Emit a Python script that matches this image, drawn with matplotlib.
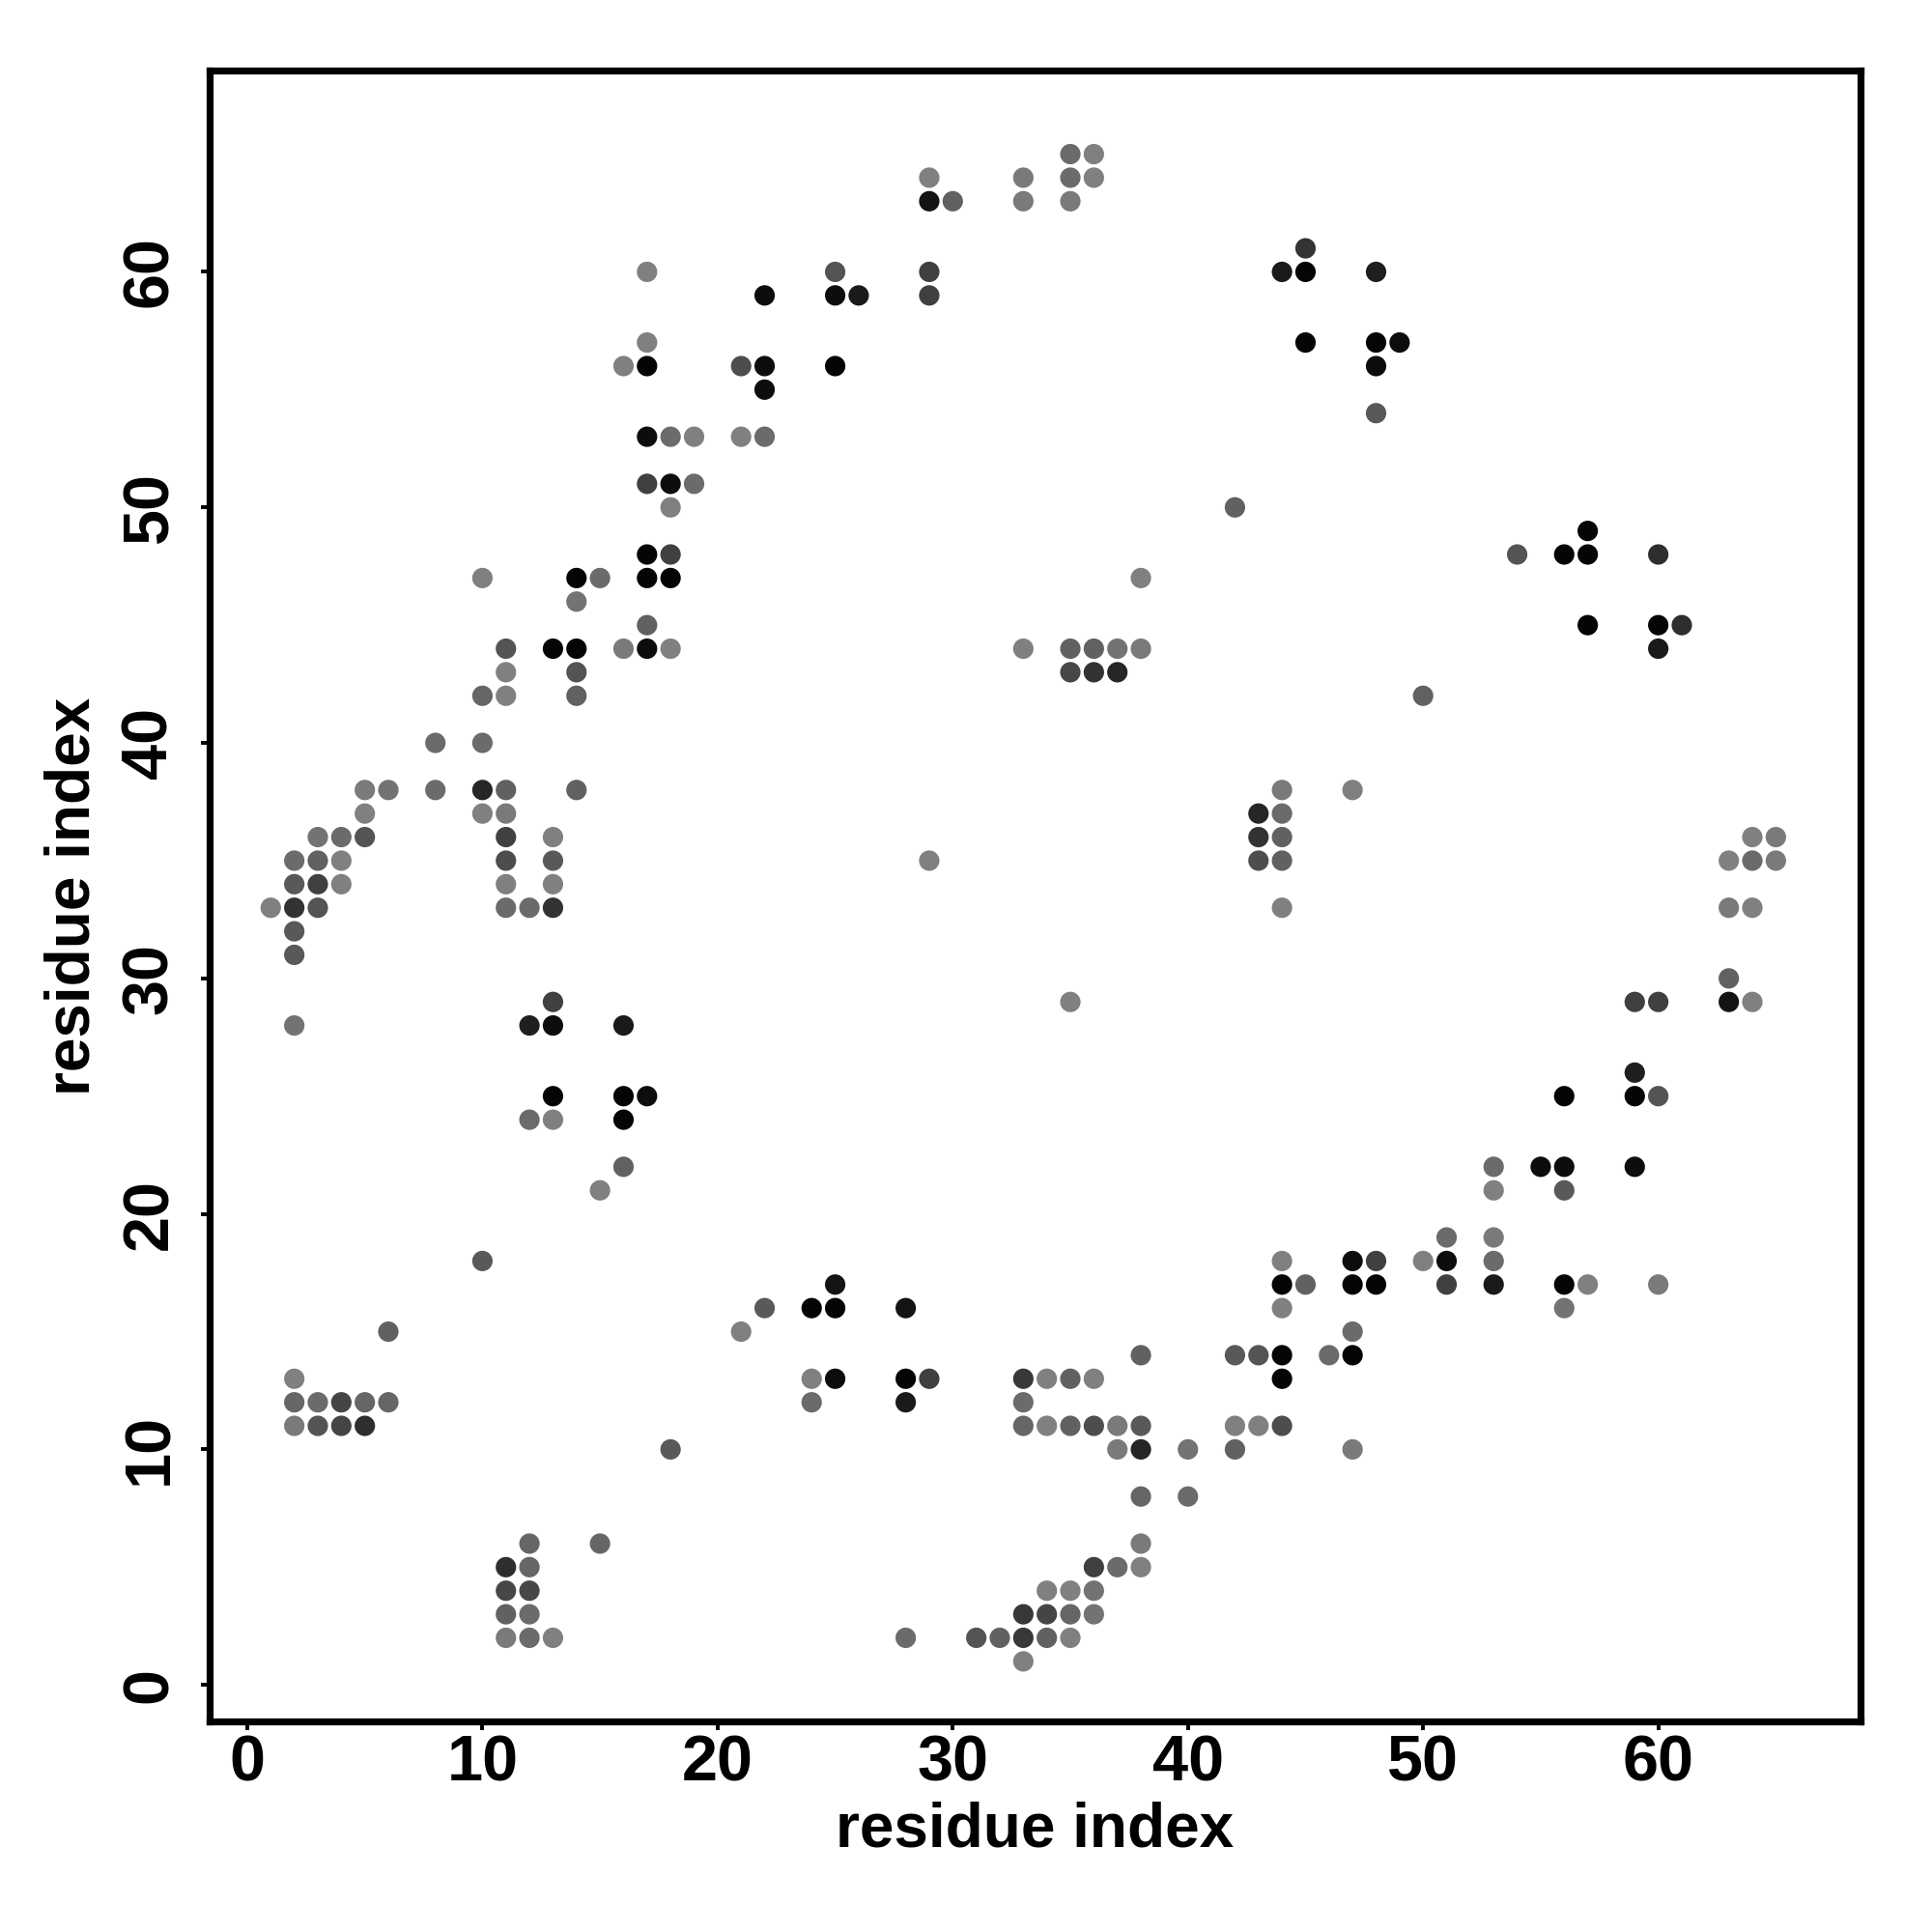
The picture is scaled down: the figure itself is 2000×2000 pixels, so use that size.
import matplotlib
matplotlib.use("Agg")
import matplotlib.pyplot as plt
from matplotlib import font_manager

# contact map: residue i, residue j, grey level (0 = black)
res_i = [35, 36,
         29, 33, 35, 36,
         29, 30, 33, 35,
         45,
         17, 25, 29, 44, 45, 48,
         22, 25, 26, 29,
         17, 45, 48, 49,
         16, 17, 21, 22, 25, 48,
         22,
         48,
         17, 18, 19, 21, 22,
         17, 18, 19,
         18, 42,
         57,
         17, 18, 54, 56, 57, 60,
         10, 14, 15, 17, 18, 38,
         14,
         17, 57, 60, 61,
         11, 13, 14, 16, 17, 18, 33, 35, 36, 37, 38, 60,
         11, 14, 35, 36, 37,
         10, 11, 14, 50,
         8, 10,
         5, 6, 8, 10, 11, 14, 44, 47,
         5, 10, 11, 43, 44,
         3, 4, 5, 11, 13, 43, 44, 64, 65,
         2, 3, 4, 11, 13, 29, 43, 44, 63, 64, 65,
         2, 3, 4, 11, 13,
         1, 2, 3, 11, 12, 13, 44, 63, 64,
         2,
         2,
         63,
         13, 35, 59, 60, 63, 64,
         2, 12, 13, 16,
         59,
         13, 16, 17, 56, 59, 60,
         12, 13, 16,
         16, 53, 55, 56, 59,
         15, 53, 56,
         51, 53,
         10, 44, 47, 48, 50, 51, 53,
         25, 44, 45, 47, 48, 51, 53, 56, 57, 60,
         22, 24, 25, 28, 44, 56,
         6, 21, 47,
         38, 42, 43, 44, 46, 47,
         2, 24, 25, 28, 29, 33, 34, 35, 36, 44,
         2, 3, 4, 5, 6, 24, 28, 33,
         2, 3, 4, 5, 33, 34, 35, 36, 37, 38, 42, 43, 44,
         18, 37, 38, 40, 42, 47,
         38, 40,
         12, 15, 38,
         11, 12, 36, 37, 38,
         11, 12, 34, 35, 36,
         11, 12, 33, 34, 35, 36,
         11, 12, 13, 28, 31, 32, 33, 34, 35,
         33]

res_j = [65, 65,
         64, 64, 64, 64,
         63, 63, 63, 63,
         61,
         60, 60, 60, 60, 60, 60,
         59, 59, 59, 59,
         57, 57, 57, 57,
         56, 56, 56, 56, 56, 56,
         55,
         54,
         53, 53, 53, 53, 53,
         51, 51, 51,
         50, 50,
         49,
         48, 48, 48, 48, 48, 48,
         47, 47, 47, 47, 47, 47,
         46,
         45, 45, 45, 45,
         44, 44, 44, 44, 44, 44, 44, 44, 44, 44, 44, 44,
         43, 43, 43, 43, 43,
         42, 42, 42, 42,
         40, 40,
         38, 38, 38, 38, 38, 38, 38, 38,
         37, 37, 37, 37, 37,
         36, 36, 36, 36, 36, 36, 36, 36, 36,
         35, 35, 35, 35, 35, 35, 35, 35, 35, 35, 35,
         34, 34, 34, 34, 34,
         33, 33, 33, 33, 33, 33, 33, 33, 33,
         32,
         31,
         30,
         29, 29, 29, 29, 29, 29,
         28, 28, 28, 28,
         26,
         25, 25, 25, 25, 25, 25,
         24, 24, 24,
         22, 22, 22, 22, 22,
         21, 21, 21,
         19, 19,
         18, 18, 18, 18, 18, 18, 18,
         17, 17, 17, 17, 17, 17, 17, 17, 17, 17,
         16, 16, 16, 16, 16, 16,
         15, 15, 15,
         14, 14, 14, 14, 14, 14,
         13, 13, 13, 13, 13, 13, 13, 13, 13, 13,
         12, 12, 12, 12, 12, 12, 12, 12,
         11, 11, 11, 11, 11, 11, 11, 11, 11, 11, 11, 11, 11,
         10, 10, 10, 10, 10, 10,
         8, 8,
         6, 6, 6,
         5, 5, 5, 5, 5,
         4, 4, 4, 4, 4,
         3, 3, 3, 3, 3, 3,
         2, 2, 2, 2, 2, 2, 2, 2, 2,
         1]

grey = [0.42, 0.50,
        0.50, 0.48, 0.42, 0.50,
        0.08, 0.38, 0.48, 0.48,
        0.20,
        0.50, 0.33, 0.25, 0.10, 0.02, 0.12,
        0.05, 0.05, 0.10, 0.25,
        0.50, 0.02, 0.02, 0.05,
        0.50, 0.02, 0.30, 0.05, 0.02, 0.05,
        0.05,
        0.35,
        0.05, 0.42, 0.50, 0.50, 0.42,
        0.25, 0.05, 0.42,
        0.50, 0.38,
        0.02,
        0.02, 0.25, 0.33, 0.02, 0.02, 0.18,
        0.50, 0.02, 0.42, 0.02, 0.02, 0.50,
        0.45,
        0.38, 0.02, 0.02, 0.18,
        0.33, 0.02, 0.02, 0.48, 0.05, 0.50, 0.50, 0.38, 0.38, 0.45, 0.48, 0.10,
        0.50, 0.33, 0.28, 0.20, 0.15,
        0.40, 0.50, 0.38, 0.38,
        0.42, 0.42,
        0.48, 0.45, 0.42, 0.15, 0.38, 0.38, 0.48, 0.50,
        0.50, 0.50, 0.48, 0.15, 0.42,
        0.45, 0.42, 0.33, 0.25, 0.50, 0.20, 0.38, 0.50, 0.48,
        0.42, 0.38, 0.50, 0.30, 0.35, 0.50, 0.30, 0.38, 0.50, 0.42, 0.48,
        0.35, 0.25, 0.50, 0.50, 0.50,
        0.50, 0.20, 0.33, 0.42, 0.42, 0.20, 0.50, 0.48, 0.50,
        0.35,
        0.35,
        0.38,
        0.25, 0.50, 0.25, 0.25, 0.08, 0.50,
        0.45, 0.12, 0.05, 0.10,
        0.12,
        0.02, 0.02, 0.05, 0.02, 0.02, 0.33,
        0.42, 0.50, 0.02,
        0.38, 0.42, 0.05, 0.05, 0.05,
        0.50, 0.50, 0.35,
        0.42, 0.48,
        0.35, 0.50, 0.05, 0.25, 0.50, 0.05, 0.42,
        0.08, 0.02, 0.38, 0.02, 0.02, 0.25, 0.10, 0.02, 0.50, 0.48,
        0.35, 0.02, 0.02, 0.08, 0.50, 0.45,
        0.38, 0.50, 0.42,
        0.38, 0.35, 0.33, 0.02, 0.42, 0.02,
        0.50, 0.50, 0.05, 0.02, 0.25, 0.22, 0.50, 0.38, 0.50, 0.02,
        0.40, 0.42, 0.27, 0.40, 0.40, 0.42, 0.10, 0.42,
        0.48, 0.33, 0.27, 0.18, 0.40, 0.50, 0.38, 0.30, 0.48, 0.35, 0.50, 0.50, 0.30,
        0.35, 0.48, 0.15, 0.45, 0.38, 0.48,
        0.40, 0.42,
        0.40, 0.40, 0.48,
        0.18, 0.40, 0.25, 0.42, 0.50,
        0.28, 0.28, 0.50, 0.50, 0.45,
        0.38, 0.42, 0.22, 0.27, 0.40, 0.45,
        0.48, 0.42, 0.50, 0.42, 0.33, 0.38, 0.22, 0.38, 0.50,
        0.50]

ticks = [0, 10, 20, 30, 40, 50, 60]
axis_label = "residue index"

# narrow bold for tick numbers if it is there, otherwise plain Liberation Sans
installed = {f.name for f in font_manager.fontManager.ttflist}
tick_font = "Liberation Sans Narrow" if "Liberation Sans Narrow" in installed else "Liberation Sans"
label_font = "Liberation Sans"

fig = plt.figure(figsize=(10, 10), dpi=200)
ax = fig.add_axes([0.1085, 0.109, 0.8545, 0.8545])

colors = [(g, g, g) for g in grey]
ax.scatter(res_i, res_j, s=58, c=colors, linewidths=0, zorder=3)

ax.set_xlim(-1.6, 68.6)
ax.set_ylim(-1.55, 68.55)

ax.set_xticks(ticks)
ax.set_yticks(ticks)
ax.set_xticklabels([str(t) for t in ticks], fontfamily=tick_font, fontweight="bold", fontsize=24)
ax.set_yticklabels([str(t) for t in ticks], fontfamily=tick_font, fontweight="bold", fontsize=24,
                   rotation=90, va="center")
ax.tick_params(axis="both", direction="out", length=3.3, width=1.4, color="black")
ax.tick_params(axis="x", pad=1.5)
ax.tick_params(axis="y", pad=7.5)

for sp in ax.spines.values():
    sp.set_linewidth(2.6)
    sp.set_color("black")

ax.set_xlabel(axis_label, fontfamily=label_font, fontweight="bold", fontsize=23, va="center")
ax.set_ylabel(axis_label, fontfamily=label_font, fontweight="bold", fontsize=23, va="center")
ax.xaxis.set_label_coords(0.5, -0.066)
ax.yaxis.set_label_coords(-0.083, 0.5)

fig.savefig("out.png", dpi=200, facecolor="white")
